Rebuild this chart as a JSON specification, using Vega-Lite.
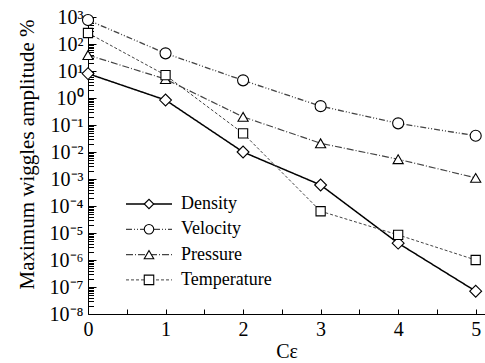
{
  "$schema": "https://vega.github.io/schema/vega-lite/v6.json",
  "width": 397,
  "height": 297,
  "autosize": {"type": "none"},
  "padding": {"left": 88, "top": 17, "right": 0, "bottom": 49},
  "background": "white",
  "config": {
    "view": {"stroke": null},
    "font": "Liberation Serif",
    "axis": {
      "grid": false,
      "domainColor": "black",
      "domainWidth": 1,
      "tickColor": "black",
      "tickWidth": 1,
      "labelColor": "black",
      "labelFont": "Liberation Serif",
      "labelFontSize": 20,
      "titleFont": "Liberation Serif",
      "titleFontSize": 21,
      "titleFontWeight": "normal",
      "titleColor": "black"
    },
    "legend": {
      "labelFont": "Liberation Serif"
    }
  },
  "data": {
    "values": [
      {"c": 0, "amp": 8, "series": "Density"},
      {"c": 1, "amp": 0.84, "series": "Density"},
      {"c": 2, "amp": 0.01, "series": "Density"},
      {"c": 3, "amp": 0.0006, "series": "Density"},
      {"c": 4, "amp": 0.0000042, "series": "Density"},
      {"c": 5, "amp": 0.00000007, "series": "Density"},
      {"c": 0, "amp": 770, "series": "Velocity"},
      {"c": 1, "amp": 45, "series": "Velocity"},
      {"c": 2, "amp": 4.5, "series": "Velocity"},
      {"c": 3, "amp": 0.5, "series": "Velocity"},
      {"c": 4, "amp": 0.115, "series": "Velocity"},
      {"c": 5, "amp": 0.04, "series": "Velocity"},
      {"c": 0, "amp": 39, "series": "Pressure"},
      {"c": 1, "amp": 5, "series": "Pressure"},
      {"c": 2, "amp": 0.2, "series": "Pressure"},
      {"c": 3, "amp": 0.021, "series": "Pressure"},
      {"c": 4, "amp": 0.0054, "series": "Pressure"},
      {"c": 5, "amp": 0.0011, "series": "Pressure"},
      {"c": 0, "amp": 255, "series": "Temperature"},
      {"c": 1, "amp": 7, "series": "Temperature"},
      {"c": 2, "amp": 0.049, "series": "Temperature"},
      {"c": 3, "amp": 0.000064, "series": "Temperature"},
      {"c": 4, "amp": 0.0000085, "series": "Temperature"},
      {"c": 5, "amp": 0.000001, "series": "Temperature"}
    ]
  },
  "encoding": {
    "x": {
      "field": "c",
      "type": "quantitative",
      "scale": {"domain": [0, 5.12], "nice": false, "zero": false},
      "axis": {
        "title": "Cε",
        "values": [0, 0.5, 1, 1.5, 2, 2.5, 3, 3.5, 4, 4.5, 5],
        "labelExpr": "datum.value % 1 === 0 ? format(datum.value, 'd') : ''",
        "tickSize": -5,
        "labelPadding": 10,
        "labelFlush": false,
        "labelOverlap": false,
        "titleFontSize": 20,
        "titleBaseline": "alphabetic",
        "titleY": 43
      }
    },
    "y": {
      "field": "amp",
      "type": "quantitative",
      "scale": {"type": "log", "domain": [1e-8, 1000], "nice": false},
      "axis": {
        "title": "Maximum wiggles amplitude %",
        "values": [
          1e-8, 2e-8, 3e-8, 4e-8, 5e-8, 6e-8, 7e-8, 8e-8, 9e-8,
          1e-7, 2e-7, 3e-7, 4e-7, 5e-7, 6e-7, 7e-7, 8e-7, 9e-7,
          1e-6, 2e-6, 3e-6, 4e-6, 5e-6, 6e-6, 7e-6, 8e-6, 9e-6,
          1e-5, 2e-5, 3e-5, 4e-5, 5e-5, 6e-5, 7e-5, 8e-5, 9e-5,
          1e-4, 2e-4, 3e-4, 4e-4, 5e-4, 6e-4, 7e-4, 8e-4, 9e-4,
          0.001, 0.002, 0.003, 0.004, 0.005, 0.006, 0.007, 0.008, 0.009,
          0.01, 0.02, 0.03, 0.04, 0.05, 0.06, 0.07, 0.08, 0.09,
          0.1, 0.2, 0.3, 0.4, 0.5, 0.6, 0.7, 0.8, 0.9,
          1, 2, 3, 4, 5, 6, 7, 8, 9,
          10, 20, 30, 40, 50, 60, 70, 80, 90,
          100, 200, 300, 400, 500, 600, 700, 800, 900,
          1000
        ],
        "labelExpr": "abs(log(datum.value) / LN10 - round(log(datum.value) / LN10)) < 0.001 ? '10' + (datum.value < 0.5 ? '⁻' : '') + ['⁰', '¹', '²', '³', '⁴', '⁵', '⁶', '⁷', '⁸', '⁹'][abs(round(log(datum.value) / LN10))] : ''",
        "tickSize": {
          "condition": {"test": "abs(log(datum.value) / LN10 - round(log(datum.value) / LN10)) < 0.001", "value": -8},
          "value": -5.5
        },
        "labelPadding": 13,
        "labelFlush": false,
        "labelOverlap": false,
        "titleAngle": -90,
        "titleBaseline": "alphabetic",
        "titleX": -55,
        "titleY": 137
      }
    }
  },
  "layer": [
    {
      "mark": {"type": "line", "clip": false},
      "encoding": {
        "strokeDash": {
          "field": "series",
          "type": "nominal",
          "scale": {
            "domain": ["Density", "Velocity", "Pressure", "Temperature"],
            "range": [[1, 0], [6, 2, 1, 2, 1, 2], [7, 2, 1, 2], [3, 2]]
          },
          "legend": {
            "orient": "none",
            "legendX": 52,
            "legendY": 178,
            "title": null,
            "padding": 0,
            "symbolType": "M-4.6,0L4.6,0",
            "symbolSize": 100,
            "labelFontSize": 18,
            "labelColor": "black",
            "labelOffset": 23,
            "rowPadding": 7.3
          }
        },
        "color": {
          "field": "series",
          "type": "nominal",
          "scale": {
            "domain": ["Density", "Velocity", "Pressure", "Temperature"],
            "range": ["#000000", "#444444", "#444444", "#444444"]
          }
        },
        "strokeWidth": {
          "field": "series",
          "type": "nominal",
          "scale": {
            "domain": ["Density", "Velocity", "Pressure", "Temperature"],
            "range": [1.5, 1, 1, 1]
          }
        }
      }
    },
    {
      "mark": {"type": "point", "filled": false, "color": "black", "fill": "white", "strokeWidth": 1.1, "opacity": 1, "clip": false},
      "encoding": {
        "shape": {
          "field": "series",
          "type": "nominal",
          "scale": {"range": ["diamond", "triangle-up", "square", "circle"]},
          "legend": {
            "orient": "none",
            "legendX": 52,
            "legendY": 178,
            "title": null,
            "padding": 0,
            "values": ["Density", "Velocity", "Pressure", "Temperature"],
            "symbolSize": 90,
            "symbolStrokeWidth": 1.1,
            "labelExpr": "''",
            "labelFontSize": 18,
            "rowPadding": 7.3
          }
        },
        "size": {
          "field": "series",
          "type": "ordinal",
          "sort": ["Density", "Velocity", "Pressure", "Temperature"],
          "scale": {"range": [140, 85, 70, 75]},
          "legend": null
        }
      }
    }
  ]
}
